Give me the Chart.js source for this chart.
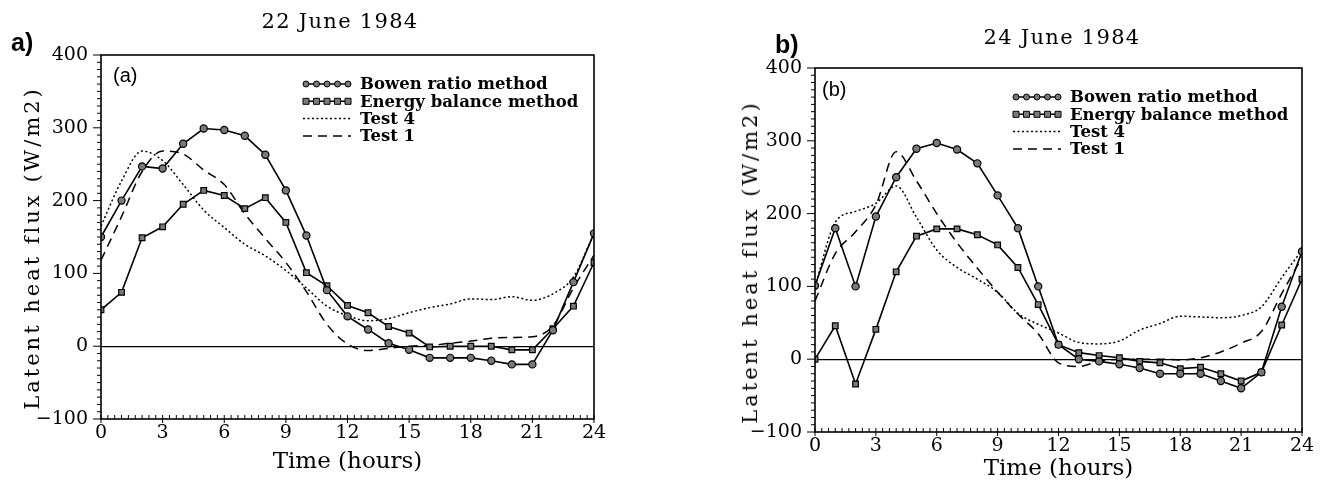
<!DOCTYPE html>
<html><head><meta charset="utf-8">
<script src="https://cdn.jsdelivr.net/npm/chart.js@4.4.0/dist/chart.umd.min.js"></script>
<style>
body{margin:0;background:#fff;width:1327px;height:485px;position:relative;overflow:hidden;}
.box{position:absolute;top:0;height:485px;}
#wa{left:0;width:620px;}
#wb{left:700px;width:627px;}
.t{position:absolute;font-family:"DejaVu Serif",serif;font-size:21px;letter-spacing:1.3px;color:#000;white-space:nowrap;transform:translate(-50%,-50%);}
.yt{position:absolute;font-family:"DejaVu Serif",serif;font-size:21px;letter-spacing:3px;color:#000;white-space:nowrap;transform:translate(-50%,-50%) rotate(-90deg);}
.p{position:absolute;font-family:"Liberation Sans",Arial,sans-serif;font-weight:bold;font-size:25px;color:#000;}
.q{position:absolute;font-family:"Liberation Sans",Arial,sans-serif;font-size:20px;color:#000;}
</style></head><body>
<div class="box" id="wa"><canvas id="ca" width="620" height="485"></canvas></div>
<div class="box" id="wb"><canvas id="cb" width="627" height="485"></canvas></div>
<div class="t" style="left:340px;top:21px;">22 June 1984</div>
<div class="t" style="left:1062px;top:37px;">24 June 1984</div>
<div class="yt" style="left:32px;top:248px;">Latent heat flux (W/m2)</div>
<div class="yt" style="left:750px;top:262px;">Latent heat flux (W/m2)</div>
<div class="p" style="left:11px;top:28px;">a)</div>
<div class="p" style="left:775px;top:30px;">b)</div>
<div class="q" style="left:113px;top:64px;">(a)</div>
<div class="q" style="left:822px;top:78px;">(b)</div>
<script>
const hours = [0,1,2,3,4,5,6,7,8,9,10,11,12,13,14,15,16,17,18,19,20,21,22,23,24];
const xTicks = [0,3,6,9,12,15,18,21,24];
const yTicks = [-100,0,100,200,300,400];
const seriesNames = ['Bowen ratio method','Energy balance method','Test 4','Test 1'];

const aBowen  = [150,200,247,244,278,299,297,289,263,214,152,77,41,23,4,-5,-16,-16,-16,-20,-25,-25,22,88,155];
const aEnergy = [50,74,149,164,195,214,207,189,204,170,101,83,56,46,27,18,-1,0,0,0,-5,-5,24,55,115];
const aTest4  = [165,227,268,255,222,187,163,140,124,104,80,55,42,35,38,46,53,58,65,64,68,63,72,95,155];
const aTest1  = [118,178,240,268,264,242,222,182,148,115,75,30,3,-6,-3,0,1,4,7,11,12,13,28,80,125];

const bBowen  = [101,180,100,196,250,289,297,288,269,225,180,100,20,0,-3,-7,-12,-20,-20,-20,-30,-40,-18,72,148];
const bEnergy = [0,46,-34,41,120,169,179,179,171,157,126,75,20,9,5,2,-3,-5,-13,-11,-20,-30,-18,47,110];
const bTest4  = [100,188,203,214,238,195,150,126,110,92,63,48,36,23,21,25,40,49,59,58,57,60,72,112,150];
const bTest1  = [80,145,175,212,285,245,200,160,125,92,62,35,-5,-10,-3,0,0,0,-1,2,10,22,38,90,140];

const pts = arr => arr.map((v,i)=>({x:hours[i], y:v}));

function drawMarker(ctx, style, x, y, r){
  ctx.beginPath();
  if(style==='rect'){ ctx.rect(x-r, y-r, 2*r, 2*r); }
  else { ctx.arc(x, y, r, 0, Math.PI*2); }
  ctx.fill(); ctx.stroke();
}

const frameTicks = {
  id:'frameTicks',
  afterDraw(chart){
    const {ctx, chartArea:a, scales:{x,y}} = chart;
    ctx.save();
    ctx.strokeStyle='#000'; ctx.setLineDash([]);
    ctx.lineWidth=1.6;
    ctx.strokeRect(a.left, a.top, a.right-a.left, a.bottom-a.top);
    ctx.lineWidth=1;
    for(let i=0;i<=50;i++){
      const v = y.min + i*10;
      const py = y.getPixelForValue(v);
      const major = (v % 100)===0;
      ctx.beginPath(); ctx.moveTo(a.left, py); ctx.lineTo(a.left-(major?8:4), py); ctx.stroke();
    }
    for(let i=0;i<=72;i++){
      const v = i/3;
      const px = x.getPixelForValue(v);
      const major = (i % 9)===0;
      ctx.beginPath(); ctx.moveTo(px, a.bottom+(major?4:0)); ctx.lineTo(px, a.bottom-4); ctx.stroke();
    }
    ctx.restore();
  }
};

const sampleLegend = {
  id:'sampleLegend',
  afterDraw(chart, args, o){
    const {ctx, chartArea:a} = chart;
    chart.data.datasets.forEach((ds,i)=>{
      const y0 = a.top + o.top + i*o.gap;
      const x0 = a.left + o.left;
      ctx.save();
      ctx.strokeStyle='#000'; ctx.lineWidth=ds.borderWidth;
      ctx.setLineDash(ds.borderDash||[]);
      ctx.beginPath(); ctx.moveTo(x0,y0); ctx.lineTo(x0+o.len,y0); ctx.stroke();
      ctx.setLineDash([]);
      if(ds.pointRadius>0){
        ctx.fillStyle=ds.pointBackgroundColor; ctx.lineWidth=1;
        for(let k=0;k<5;k++) drawMarker(ctx, ds.pointStyle, x0+3+k*(o.len-6)/4, y0, 3);
      }
      ctx.fillStyle='#000'; ctx.font=o.font; ctx.textBaseline='middle'; ctx.textAlign='left';
      ctx.fillText(ds.label, x0+o.len+o.textGap, y0+1);
      ctx.restore();
    });
  }
};

function makeChart(id, b, e, t4, t1, geo){
  const serif = 'DejaVu Serif';
  return new Chart(document.getElementById(id), {
    type:'line',
    data:{datasets:[
      {label:seriesNames[0], data:pts(b), borderColor:'#000', borderWidth:1.6, tension:0,
       pointStyle:'circle', pointRadius:3.6, pointBackgroundColor:'#7a7a7a', pointBorderColor:'#000', pointBorderWidth:1.2},
      {label:seriesNames[1], data:pts(e), borderColor:'#000', borderWidth:1.6, tension:0,
       pointStyle:'rect', pointRadius:4, pointBackgroundColor:'#7a7a7a', pointBorderColor:'#000', pointBorderWidth:1.2},
      {label:seriesNames[2], data:pts(t4), borderColor:'#000', borderWidth:1.5, borderDash:[2,2.5],
       cubicInterpolationMode:'monotone', pointRadius:0},
      {label:seriesNames[3], data:pts(t1), borderColor:'#000', borderWidth:1.5, borderDash:[9,6],
       cubicInterpolationMode:'monotone', pointRadius:0}
    ]},
    options:{
      responsive:false, animation:false, devicePixelRatio:1,
      layout:{padding:{left:0, right:geo.right, top:geo.top, bottom:0}},
      plugins:{legend:{display:false}, tooltip:{enabled:false},
        sampleLegend:{left:geo.legLeft, top:29, gap:17.3, len:48, textGap:9, font:'bold 16.5px "DejaVu Serif"'}},
      scales:{
        x:{type:'linear', min:0, max:24,
          afterFit(s){ s.height = geo.xh; },
          afterBuildTicks(s){ s.ticks = xTicks.map(v=>({value:v})); },
          grid:{display:false, drawTicks:false}, border:{display:false},
          ticks:{padding:3, color:'#000', font:{family:serif, size:19}, maxRotation:0, autoSkip:false},
          title:{display:true, text:'Time (hours)', color:'#000', font:{family:serif, size:23}, padding:{top:0,bottom:geo.xtPad}}
        },
        y:{min:-100, max:400,
          afterFit(s){ s.width = geo.yw; },
          afterBuildTicks(s){ s.ticks = yTicks.map(v=>({value:v})); },
          grid:{drawTicks:false, color:c=>c.tick && c.tick.value===0 ? '#000' : 'rgba(0,0,0,0)', lineWidth:1.2},
          border:{display:false},
          ticks:{padding:13, color:'#000', font:{family:serif, size:19},
            callback:v=> v<0 ? '\u2212'+Math.abs(v) : String(v)},
          title:{display:false}
        }
      }
    },
    plugins:[frameTicks, sampleLegend]
  });
}

makeChart('ca', aBowen, aEnergy, aTest4, aTest1, {right:26, top:55, xh:66, yw:101, xtPad:9, legLeft:202});
makeChart('cb', bBowen, bEnergy, bTest4, bTest1, {right:25, top:68, xh:53, yw:115, xtPad:2, legLeft:198});
</script>
</body></html>
